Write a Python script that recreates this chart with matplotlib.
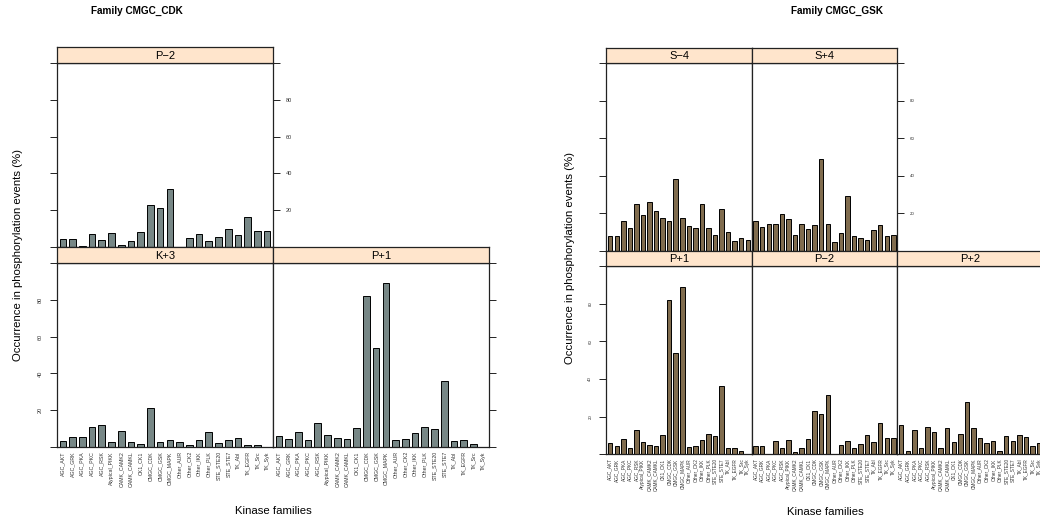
import matplotlib
matplotlib.use("Agg")
import matplotlib.pyplot as plt
import numpy as np

plt.rcParams['font.family'] = ['Liberation Sans', 'DejaVu Sans']

# Kinase families on the x axis
families = ["AGC_AKT", "AGC_GRK", "AGC_PKA", "AGC_PKC", "AGC_RSK", "Atypical_PIKK",
            "CAMK_CAMK2", "CAMK_CAMKL", "CK1_CK1", "CMGC_CDK", "CMGC_GSK", "CMGC_MAPK",
            "Other_AUR", "Other_CK2", "Other_IKK", "Other_PLK", "STE_STE20", "STE_STE7",
            "TK_Abl", "TK_EGFR", "TK_Src", "TK_Syk"]

# Occurrence (%) per residue position
p_minus2 = [4.2, 4.4, 0.4, 6.8, 3.6, 7.4, 1.1, 3.2, 8.2, 22.9, 21.3, 31.4,
            0.0, 4.7, 7.0, 3.4, 5.4, 10.0, 6.6, 16.4, 8.6, 8.6]
k_plus3 = [3.2, 5.4, 5.4, 10.6, 12.1, 2.7, 8.5, 2.5, 1.4, 21.3, 2.9, 3.8,
           2.9, 1.1, 3.8, 7.9, 2.3, 3.8, 5.0, 0.9, 1.3, 0.0]
p_plus1 = [6.2, 4.5, 8.2, 3.6, 13.0, 6.5, 5.1, 4.4, 10.3, 81.8, 54.0, 89.0,
           3.7, 4.5, 7.8, 10.6, 9.6, 36.1, 3.2, 3.6, 1.6, 0.0]
s_minus4 = [7.6, 8.0, 15.8, 11.9, 25.0, 18.8, 26.2, 21.3, 17.6, 15.8, 38.3, 17.6,
            13.3, 11.9, 25.0, 11.9, 8.2, 22.0, 9.8, 5.3, 6.6, 5.5]
s_plus4 = [15.8, 12.6, 14.0, 14.0, 19.3, 16.7, 8.2, 14.4, 11.3, 13.8, 48.6, 14.0,
           4.6, 9.6, 28.9, 7.6, 6.7, 5.9, 10.8, 13.5, 7.6, 8.3]
p_plus2 = [15.6, 1.9, 12.9, 3.2, 14.7, 12.0, 3.4, 13.8, 6.5, 10.8, 27.8, 14.2,
           8.7, 6.2, 7.1, 1.6, 9.7, 7.1, 10.1, 9.2, 4.6, 5.8]

y_ticks = [0, 20, 40, 60, 80, 100]
y_ticklabels = ["", "20", "40", "60", "80", ""]

W, H = 1040, 520
fig = plt.figure(figsize=(W / 100, H / 100), dpi=100)
fig.patch.set_facecolor("white")

STRIP_BG = "#ffe5cc"
EDGE = "#222222"


def px_axes(x0, y0, x1, y1):
    return fig.add_axes([x0 / W, 1 - y1 / H, (x1 - x0) / W, (y1 - y0) / H])


def panel(box, strip_h, name, values, color, left=None, right=None,
          xlabels=False, ytick_fs=4.0, xtick_fs=3.8):
    x0, y0, x1, y1 = box
    ax = px_axes(x0, y0, x1, y1)
    x = np.arange(1, len(families) + 1)
    ax.bar(x, values, width=0.68, color=color, edgecolor="black", linewidth=0.7, zorder=2)
    ax.set_xlim(0.4, len(families) + 0.6)
    ax.set_ylim(0, 100)
    for s in ax.spines.values():
        s.set_color(EDGE)
        s.set_linewidth(0.9)
    ax.set_yticks(y_ticks)
    ax.tick_params(axis="y", length=5, width=0.7, color=EDGE, direction="out",
                   left=left is not None, right=right is not None,
                   labelleft=left == "label", labelright=right == "label",
                   labelsize=ytick_fs, labelcolor="#333333")
    ax.set_yticklabels(y_ticklabels)
    if left == "label":
        for t in ax.get_yticklabels():
            t.set_rotation(90)
            t.set_va("center")
        ax.tick_params(axis="y", pad=5)
    if right == "label":
        ax.tick_params(axis="y", pad=4)
    ax.set_xticks(x)
    if xlabels:
        ax.set_xticklabels(families, rotation=90, fontsize=xtick_fs, color="#333333")
        ax.tick_params(axis="x", length=0, pad=3)
    else:
        ax.set_xticklabels([])
        ax.tick_params(axis="x", length=0)
    # strip with the position name
    st = px_axes(x0, y0 - strip_h, x1, y0)
    st.set_facecolor(STRIP_BG)
    st.set_xticks([])
    st.set_yticks([])
    for s in st.spines.values():
        s.set_color(EDGE)
        s.set_linewidth(0.9)
    st.text(0.5, 0.45, name, ha="center", va="center", fontsize=8, transform=st.transAxes)
    return ax


# ---- Family CMGC_CDK ----
cdk_color = "#778786"
panel((57, 63, 273, 247), 16, "P\u22122", p_minus2, cdk_color, left="tick", right="label")
panel((57, 263, 273, 447), 16, "K+3", k_plus3, cdk_color, left="label", xlabels=True)
panel((273, 263, 489, 447), 16, "P+1", p_plus1, cdk_color, right="tick", xlabels=True)

fig.text(137 / W, 1 - 11 / H, "Family CMGC_CDK", ha="center", va="center",
         fontsize=7.2, fontweight="bold")
fig.text(18 / W, 1 - 255 / H, "Occurrence in phosphorylation events (%)", rotation=90,
         ha="center", va="center", fontsize=8.2)
fig.text(273 / W, 1 - 511 / H, "Kinase families", ha="center", va="center", fontsize=8.2)

# ---- Family CMGC_GSK ----
gsk_color = "#806c4e"
c0, c1, c2, c3 = 606.3, 751.7, 897.3, 1043.0
top0, top1 = 63.0, 250.7
bot0, bot1 = 266.0, 454.3
sh = 15.5
small = dict(ytick_fs=3.2, xtick_fs=3.4)
panel((c0, top0, c1, top1), sh, "S\u22124", s_minus4, gsk_color, left="tick", **small)
panel((c1, top0, c2, top1), sh, "S+4", s_plus4, gsk_color, right="label", **small)
panel((c0, bot0, c1, bot1), sh, "P+1", p_plus1, gsk_color, left="label", xlabels=True, **small)
panel((c1, bot0, c2, bot1), sh, "P\u22122", p_minus2, gsk_color, xlabels=True, **small)
panel((c2, bot0, c3, bot1), sh, "P+2", p_plus2, gsk_color, right="tick", xlabels=True, **small)

fig.text(837 / W, 1 - 11 / H, "Family CMGC_GSK", ha="center", va="center",
         fontsize=7.2, fontweight="bold")
fig.text(570 / W, 1 - 258 / H, "Occurrence in phosphorylation events (%)", rotation=90,
         ha="center", va="center", fontsize=8.2)
fig.text(825 / W, 1 - 512 / H, "Kinase families", ha="center", va="center", fontsize=8.2)

fig.savefig("out.png", dpi=100, facecolor="white")
